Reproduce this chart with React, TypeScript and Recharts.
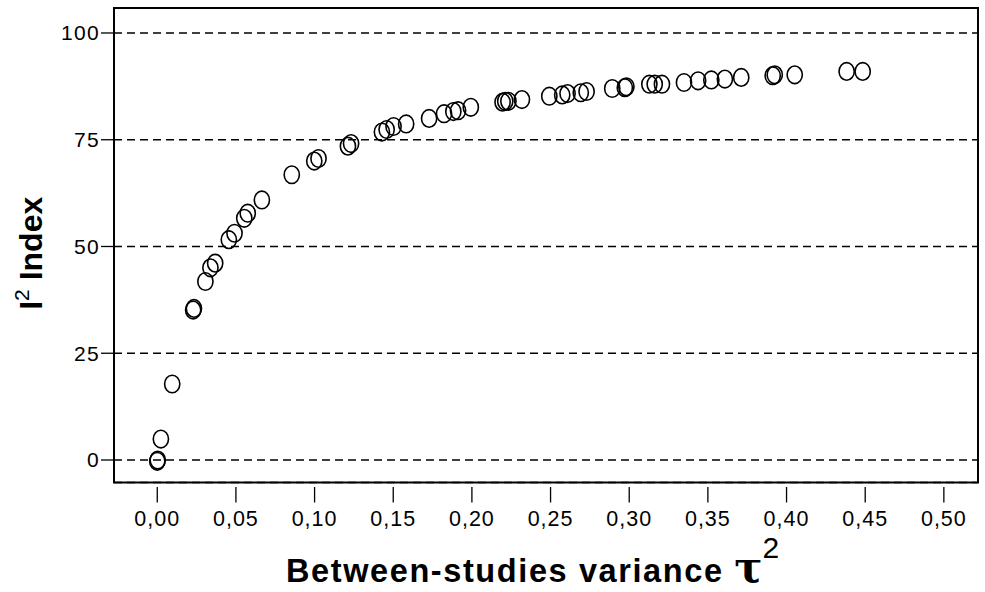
import { CartesianGrid, ReferenceArea, Scatter, ScatterChart, XAxis, YAxis } from "recharts";

// between-studies variance (tau^2) per simulated meta-analysis
const tau2 = [
  0.0, 0.0003, 0.0023, 0.0095, 0.0228, 0.0233, 0.0306, 0.0338, 0.0368, 0.0455, 0.0491,
  0.0553, 0.0575, 0.0665, 0.0855, 0.0998, 0.1025, 0.1212, 0.1232, 0.1428, 0.1458,
  0.1502, 0.1582, 0.1728, 0.1823, 0.1882, 0.1912, 0.1993, 0.2195, 0.2212, 0.2232,
  0.2318, 0.2492, 0.2574, 0.2608, 0.2692, 0.2729, 0.2892, 0.2972, 0.2982, 0.3128,
  0.3162, 0.3208, 0.3348, 0.3438, 0.3522, 0.3608, 0.3712, 0.3912, 0.3925, 0.4052,
  0.4382, 0.4484,
];

// I^2 index (%) matching each tau^2
const i2 = [
  -0.3, 0.0, 4.9, 17.8, 35.1, 35.5, 41.8, 45.0, 46.1, 51.6, 53.1,
  56.6, 57.8, 60.9, 66.8, 70.0, 70.6, 73.5, 74.1, 76.8, 77.4,
  78.1, 78.7, 80.0, 81.1, 81.6, 81.8, 82.6, 83.8, 84.0, 84.0,
  84.4, 85.2, 85.5, 85.8, 86.0, 86.3, 87.0, 87.2, 87.4, 88.0,
  88.0, 88.0, 88.4, 88.8, 89.0, 89.2, 89.6, 90.0, 90.2, 90.2,
  91.0, 91.0,
];

const xTicks = [0, 0.05, 0.1, 0.15, 0.2, 0.25, 0.3, 0.35, 0.4, 0.45, 0.5];
const yTicks = [0, 25, 50, 75, 100];

const X_DOMAIN: [number, number] = [-0.0275, 0.5217];
const Y_DOMAIN: [number, number] = [-5.27, 105.85];

const FONT = '"Liberation Sans", Arial, Helvetica, sans-serif';

const data = tau2.map((t, i) => ({ tau2: t, i2: i2[i] }));

function Ring(props: any) {
  const { cx, cy } = props;
  if (cx == null || cy == null) return null;
  return <ellipse cx={cx} cy={cy} rx={7.6} ry={8.8} fill="none" stroke="#000" strokeWidth={1.6} />;
}

function XTick(props: any) {
  const { x, y, payload } = props;
  const label = Number(payload.value).toFixed(2).replace(".", ",");
  return (
    <g>
      <line x1={x} x2={x} y1={y + 4.5} y2={y + 20} stroke="#000" strokeWidth={1.3} />
      <text
        x={x}
        y={y + 43.5}
        textAnchor="middle"
        fontFamily={FONT}
        fontSize={21.5}
        letterSpacing={1}
        fill="#000"
      >
        {label}
      </text>
    </g>
  );
}

function XTitle(props: any) {
  const vb = props.viewBox;
  const x = vb.x + 172;
  const y = vb.y + 99;
  return (
    <text x={x} y={y} fontFamily={FONT} fill="#000">
      <tspan fontSize={32.5} fontWeight="bold" letterSpacing={1.6}>
        Between-studies variance{" "}
      </tspan>
      <tspan fontSize={42} fontWeight="bold" fontFamily='"DejaVu Serif", serif'>τ</tspan>
      <tspan fontSize={30} dy={-24}>2</tspan>
    </text>
  );
}

function YTitle(props: any) {
  const vb = props.viewBox;
  const cx = vb.x + 42;
  const cy = vb.y + vb.height / 2 + 8;
  return (
    <text
      x={cx}
      y={cy}
      transform={`rotate(-90 ${cx} ${cy})`}
      textAnchor="middle"
      fontFamily={FONT}
      fill="#000"
    >
      <tspan fontSize={32} fontWeight="bold">I</tspan>
      <tspan fontSize={21} dy={-13}>2</tspan>
      <tspan fontSize={32} fontWeight="bold" dy={13}> Index</tspan>
    </text>
  );
}

export default function App() {
  return (
    <div style={{ position: "absolute", left: 0, top: 0, background: "#fff" }}>
      <ScatterChart width={985} height={592} margin={{ top: 8, right: 7, bottom: 0, left: 0 }}>
        <CartesianGrid
          horizontal
          vertical={false}
          stroke="#000"
          strokeWidth={1.4}
          strokeDasharray="8 5"
        />
        <XAxis
          type="number"
          dataKey="tau2"
          domain={X_DOMAIN}
          ticks={xTicks}
          allowDataOverflow
          height={109.5}
          axisLine={false}
          tickLine={false}
          tickSize={0}
          tickMargin={0}
          tick={<XTick />}
          interval={0}
          label={<XTitle />}
        />
        <YAxis
          type="number"
          dataKey="i2"
          domain={Y_DOMAIN}
          ticks={yTicks}
          allowDataOverflow
          width={114}
          axisLine={false}
          tickSize={13}
          tickMargin={1}
          tickLine={{ stroke: "#000", strokeWidth: 1.3 }}
          tick={{ fill: "#000", fontSize: 21, fontFamily: FONT, letterSpacing: 1.3 }}
          interval={0}
          label={<YTitle />}
        />
        <ReferenceArea
          x1={X_DOMAIN[0]}
          x2={X_DOMAIN[1]}
          y1={Y_DOMAIN[0]}
          y2={Y_DOMAIN[1]}
          fill="none"
          stroke="#000"
          strokeWidth={2}
          fillOpacity={0}
        />
        <Scatter data={data} shape={<Ring />} isAnimationActive={false} />
      </ScatterChart>
    </div>
  );
}
